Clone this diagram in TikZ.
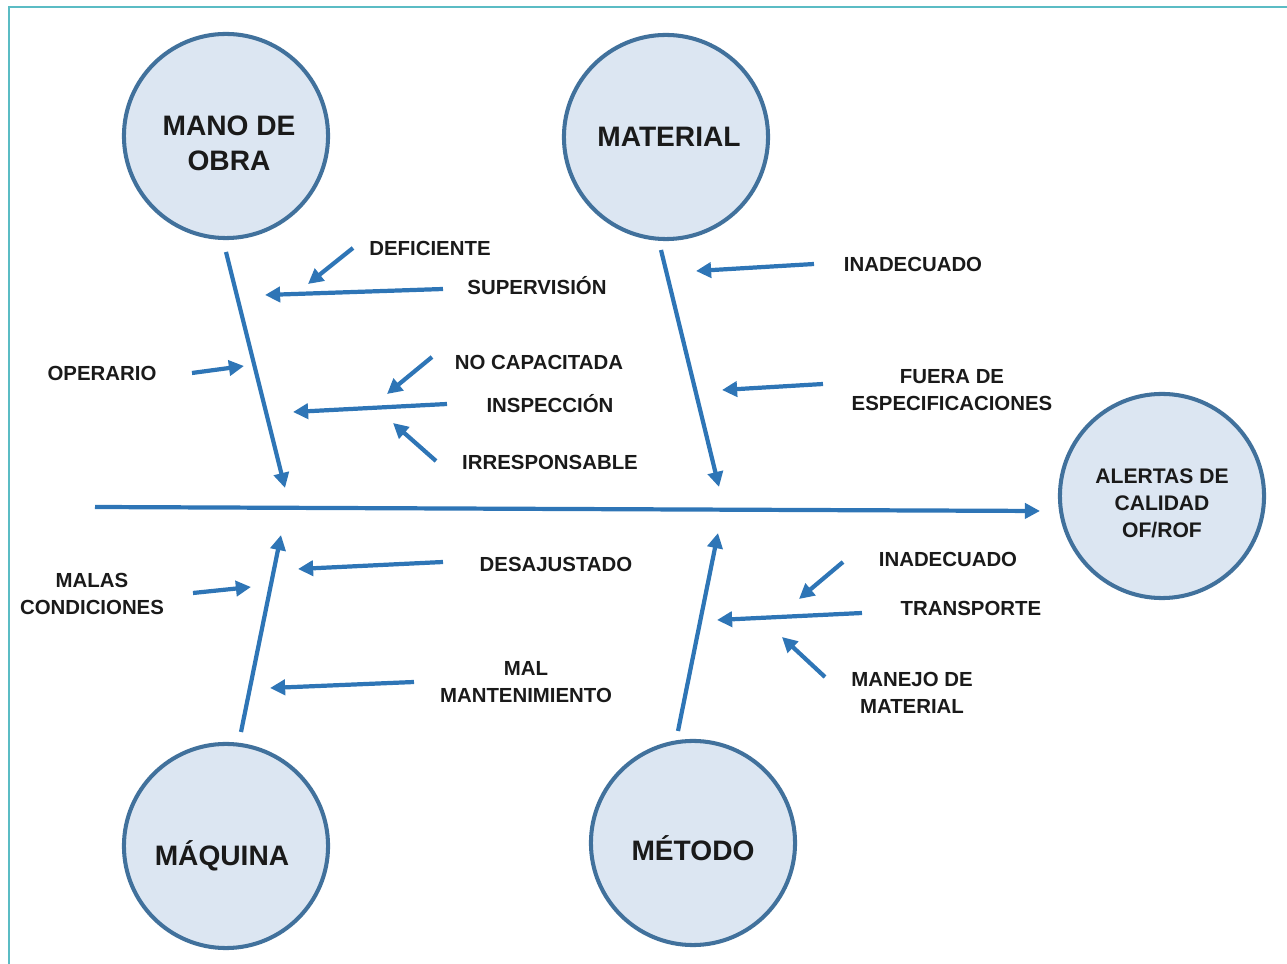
\documentclass[tikz,border=0pt]{standalone}
\usepackage{fontspec}
\setmainfont{Liberation Sans}
\usetikzlibrary{arrows.meta}
\definecolor{azulflecha}{HTML}{2E75B6}
\definecolor{azulborde}{HTML}{41719C}
\definecolor{azulrelleno}{HTML}{DCE6F2}
\definecolor{marco}{HTML}{5BBCC4}
\definecolor{texto}{HTML}{1A1A1A}

\begin{document}
\begin{tikzpicture}[x=0.01cm,y=-0.01cm,
    flecha/.style={line width=1.2pt,draw=azulflecha,-{Triangle[length=4.3pt,width=4.3pt]}},
    causa/.style={circle,draw=azulborde,line width=1.15pt,fill=azulrelleno,minimum size=2.04cm,inner sep=0pt},
    titulo/.style={text=texto,align=center,inner sep=0pt,font=\fontsize{8}{10}\selectfont\bfseries},
    titulochico/.style={titulo,font=\fontsize{6}{7.7}\selectfont\bfseries},
    etiq/.style={text=texto,align=center,inner sep=1pt,font=\fontsize{5.8}{7.7}\selectfont\bfseries}]
  \useasboundingbox (0,0) rectangle (1287,964);
  \draw[marco,line width=0.6pt] (9,964) -- (9,7) -- (1287,7);

  % cabezas
  \node[causa] (mano) at (226,136) {};
  \node[causa] (material) at (666,137) {};
  \node[causa] (maquina) at (226,846) {};
  \node[causa] (metodo) at (693,843) {};
  \node[causa] (alertas) at (1162,496) {};
  \node[titulo] (manotxt) at (229,143) {MANO DE\\OBRA};
  \node[titulo] (materialtxt) at (669,137) {MATERIAL};
  \node[titulo] (maquinatxt) at (222,856) {MÁQUINA};
  \node[titulo] (metodotxt) at (693,848) {MÉTODO};
  \node[titulochico] (alertastxt) at (1162,503) {ALERTAS DE\\CALIDAD\\OF/ROF};

  % espina y huesos
  \coordinate (e0) at (95,507);
  \coordinate (e1) at (1040,511);
  \draw[flecha] (e0) -- (e1);
  \coordinate (mo0) at (226,252); \coordinate (mo1) at (285,488);
  \coordinate (ma0) at (661,250); \coordinate (ma1) at (719,487);
  \coordinate (mq0) at (241,732); \coordinate (mq1) at (281,535);
  \coordinate (me0) at (678,731); \coordinate (me1) at (718,533);
  \draw[flecha] (mo0) -- (mo1);
  \draw[flecha] (ma0) -- (ma1);
  \draw[flecha] (mq0) -- (mq1);
  \draw[flecha] (me0) -- (me1);

  % mano de obra
  \node[etiq] (deficiente) at (430,248) {DEFICIENTE};
  \node[etiq] (supervision) at (537,286) {SUPERVISIÓN};
  \node[etiq] (operario) at (102,373) {OPERARIO};
  \node[etiq] (nocap) at (539,362) {NO CAPACITADA};
  \node[etiq] (inspeccion) at (550,404) {INSPECCIÓN};
  \node[etiq] (irresp) at (550,462) {IRRESPONSABLE};
  \coordinate (a1) at (353,248); \coordinate (b1) at (308,284);
  \coordinate (a2) at (443,289); \coordinate (b2) at (265,295);
  \coordinate (a3) at (192,373); \coordinate (b3) at (244,366);
  \coordinate (a4) at (432,357); \coordinate (b4) at (387,394);
  \coordinate (a5) at (447,404); \coordinate (b5) at (293,412);
  \coordinate (a6) at (436,461); \coordinate (b6) at (393,423);
  \foreach \i in {1,...,6} \draw[flecha] (a\i) -- (b\i);

  % material
  \node[etiq] (inadecuado) at (913,264) {INADECUADO};
  \node[etiq] (fuera) at (952,390) {FUERA DE\\ESPECIFICACIONES};
  \coordinate (c1) at (814,264); \coordinate (d1) at (696,271);
  \coordinate (c2) at (823,384); \coordinate (d2) at (722,390);
  \draw[flecha] (c1) -- (d1);
  \draw[flecha] (c2) -- (d2);

  % maquina
  \node[etiq] (desajustado) at (556,564) {DESAJUSTADO};
  \node[etiq] (malas) at (92,594) {MALAS\\CONDICIONES};
  \node[etiq] (malmant) at (526,682) {MAL\\MANTENIMIENTO};
  \coordinate (f1) at (443,562); \coordinate (g1) at (298,569);
  \coordinate (f2) at (193,593); \coordinate (g2) at (251,587);
  \coordinate (f3) at (414,682); \coordinate (g3) at (270,688);
  \foreach \i in {1,2,3} \draw[flecha] (f\i) -- (g\i);

  % metodo
  \node[etiq] (inadecuado2) at (948,559) {INADECUADO};
  \node[etiq] (transporte) at (971,608) {TRANSPORTE};
  \node[etiq] (manejo) at (912,693) {MANEJO DE\\MATERIAL};
  \coordinate (h1) at (843,562); \coordinate (k1) at (799,599);
  \coordinate (h2) at (862,613); \coordinate (k2) at (717,620);
  \coordinate (h3) at (825,677); \coordinate (k3) at (782,637);
  \foreach \i in {1,2,3} \draw[flecha] (h\i) -- (k\i);
\end{tikzpicture}
\end{document}
